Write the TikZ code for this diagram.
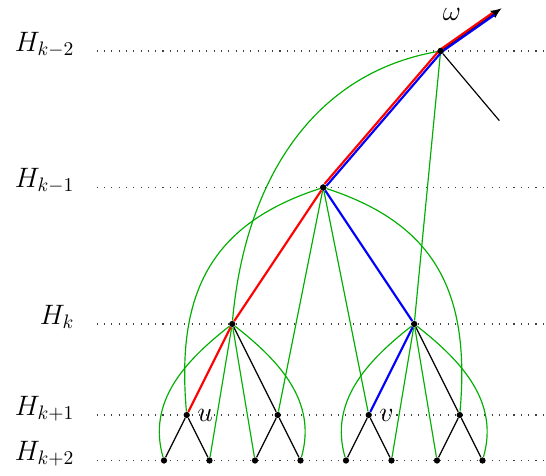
\documentclass[tikz,border=0pt]{standalone}
\usepackage{amsmath,amssymb}
\usepackage{tikz}
\usetikzlibrary{arrows.meta,positioning}
\definecolor{vertGeo}{RGB}{0,175,0}

\begin{document}
\begin{tikzpicture}[x=0.82cm,y=0.82cm,
  sommet/.style={circle,fill=black,inner sep=0pt,minimum size=3.2pt},
  niveau/.style={black!75,line width=0.55pt,dash pattern=on 0.55pt off 3.2pt},
  etiq/.style={anchor=base east,font=\Large},
  geo/.style={vertGeo,line width=0.6pt},
  arete/.style={black,line width=0.6pt},
  cheminU/.style={red,line width=1.1pt},
  cheminV/.style={blue,line width=1.1pt}]

  \useasboundingbox (-3.604,-0.319) rectangle (8.396,10.121);

  % niveaux
  \node[etiq] (Hm2) at (-1.82,9) {$H_{k-2}$};
  \node[etiq] (Hm1) at (-1.82,6) {$H_{k-1}$};
  \node[etiq] (H0)  at (-1.82,3) {$H_{k}$};
  \node[etiq] (Hp1) at (-1.82,1) {$H_{k+1}$};
  \node[etiq] (Hp2) at (-1.82,0) {$H_{k+2}$};
  \coordinate (g2) at (-1.48,9);  \coordinate (d2) at (8.4,9);
  \coordinate (g1) at (-1.48,6);  \coordinate (d1) at (8.4,6);
  \coordinate (g0) at (-1.48,3);  \coordinate (d0) at (8.4,3);
  \coordinate (gp) at (-1.48,1);  \coordinate (dp) at (8.4,1);
  \coordinate (gq) at (-1.48,0);  \coordinate (dq) at (8.4,0);
  \draw[niveau] (g2) -- (d2);
  \draw[niveau] (g1) -- (d1);
  \draw[niveau] (g0) -- (d0);
  \draw[niveau] (gp) -- (dp);
  \draw[niveau] (gq) -- (dq);

  % sommets
  \node[sommet] (e)  at (6.08,9) {};
  \node[sommet] (d)  at (3.5,6) {};
  \node[sommet] (c0) at (1.5,3) {};
  \node[sommet] (c1) at (5.5,3) {};
  \node[sommet] (a0) at (0.5,1) {};
  \node[sommet] (a1) at (2.5,1) {};
  \node[sommet] (a2) at (4.5,1) {};
  \node[sommet] (a3) at (6.5,1) {};
  \node[sommet] (b0) at (0,0) {};
  \node[sommet] (b1) at (1,0) {};
  \node[sommet] (b2) at (2,0) {};
  \node[sommet] (b3) at (3,0) {};
  \node[sommet] (b4) at (4,0) {};
  \node[sommet] (b5) at (5,0) {};
  \node[sommet] (b6) at (6,0) {};
  \node[sommet] (b7) at (7,0) {};
  \coordinate (bas) at (7.37,7.47);
  \coordinate (fleche) at (7.42,9.94);

  % geodesiques
  \draw[geo] (e) to[out=190,in=85] (c0);
  \draw[geo] (e) -- (c1);
  \draw[geo] (d) to[out=198,in=95,looseness=1.15] (a0);
  \draw[geo] (d) to[out=-18,in=85,looseness=1.15] (a3);
  \draw[geo] (d) -- (a1);
  \draw[geo] (d) -- (a2);
  \draw[geo] (c0) to[out=218,in=106] (b0);
  \draw[geo] (c0) to[out=-38,in=74] (b3);
  \draw[geo] (c0) -- (b1);
  \draw[geo] (c0) -- (b2);
  \draw[geo] (c1) to[out=218,in=106] (b4);
  \draw[geo] (c1) to[out=-38,in=74] (b7);
  \draw[geo] (c1) -- (b5);
  \draw[geo] (c1) -- (b6);

  % arbre
  \draw[arete] (e) -- (bas);
  \draw[arete,-{Latex[length=5.5pt,width=4.5pt]}] (e) -- (fleche);
  \draw[arete] (c0) -- (a1);
  \draw[arete] (c1) -- (a3);
  \draw[arete] (b0) -- (a0) -- (b1);
  \draw[arete] (b2) -- (a1) -- (b3);
  \draw[arete] (b4) -- (a2) -- (b5);
  \draw[arete] (b6) -- (a3) -- (b7);

  % chemins vers omega
  \draw[cheminU] (a0) -- (c0) -- (d);
  \draw[cheminV] (a2) -- (c1) -- (d);
  \draw[cheminV,transform canvas={xshift=0.5pt,yshift=-0.5pt},shorten >=5pt]
    (d) -- (e.center) -- (fleche);
  \draw[cheminU,transform canvas={xshift=-0.5pt,yshift=0.5pt},shorten >=5pt]
    (d) -- (e.center) -- (fleche);

  \node[sommet] at (e) {};
  \node[sommet] at (d) {};

  % etiquettes
  \node[right=1.5pt of a0,font=\Large,inner sep=2pt] (lu) {$u$};
  \node[right=1.5pt of a2,font=\Large,inner sep=2pt] (lv) {$v$};
  \node[font=\Large,inner sep=0.5pt] (om) at (6.33,9.8) {$\omega$};
\end{tikzpicture}
\end{document}
